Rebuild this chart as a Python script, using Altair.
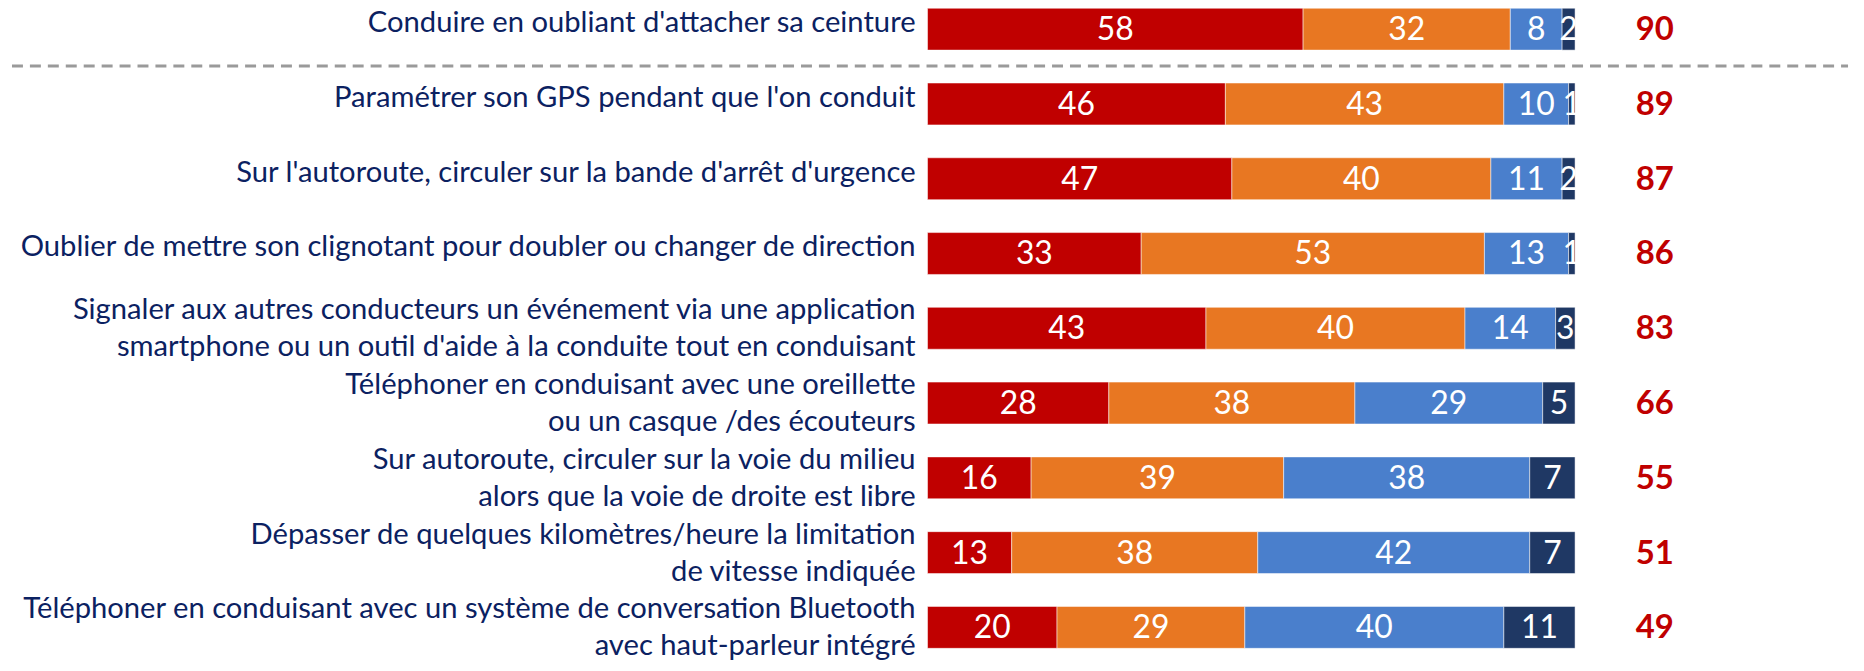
import altair as alt
import pandas as pd

labels = [
    "Conduire en oubliant d'attacher sa ceinture",
    "Paramétrer son GPS pendant que l'on conduit",
    "Sur l'autoroute, circuler sur la bande d'arrêt d'urgence",
    "Oublier de mettre son clignotant pour doubler ou changer de direction",
    "Signaler aux autres conducteurs un événement via une application|smartphone ou un outil d'aide à la conduite tout en conduisant",
    "Téléphoner en conduisant avec une oreillette|ou un casque /des écouteurs",
    "Sur autoroute, circuler sur la voie du milieu|alors que la voie de droite est libre",
    "Dépasser de quelques kilomètres/heure la limitation|de vitesse indiquée",
    "Téléphoner en conduisant avec un système de conversation Bluetooth|avec haut-parleur intégré",
]
series_names = ["Très grave", "Assez grave", "Peu grave", "Pas grave du tout"]
s_tres = [58, 46, 47, 33, 43, 28, 16, 13, 20]
s_assez = [32, 43, 40, 53, 40, 38, 39, 38, 29]
s_peu = [8, 10, 11, 13, 14, 29, 38, 42, 40]
s_pas = [2, 1, 2, 1, 3, 5, 7, 7, 11]
totals = [90, 89, 87, 86, 83, 66, 55, 51, 49]
colors = ["#C00000", "#E87722", "#4A7FCC", "#1F3864"]

series = [s_tres, s_assez, s_peu, s_pas]
rows = []
for i, lab in enumerate(labels):
    start = 0
    for k, name in enumerate(series_names):
        v = series[k][i]
        rows.append({"idx": i, "serie": name, "order": k, "value": v,
                     "x0": start, "x1": start + v, "xm": start + v / 2})
        start += v
seg = pd.DataFrame(rows)
lab_df = pd.DataFrame({"idx": list(range(len(labels))), "label": labels, "total": totals})

W, H = 650, 655
xs = alt.Scale(domain=[0, 100])
ys = alt.Scale(domain=[-0.2665, 8.46], reverse=True)

bars = alt.Chart(seg).transform_calculate(
    ya="datum.idx - 0.28", yb="datum.idx + 0.28"
).mark_rect(stroke="#FFFFFF", strokeWidth=1, strokeOpacity=0.5).encode(
    x=alt.X("x0:Q", scale=xs, axis=None),
    x2="x1:Q",
    y=alt.Y("ya:Q", scale=ys, axis=None),
    y2="yb:Q",
    color=alt.Color("serie:N", scale=alt.Scale(domain=series_names, range=colors), legend=None),
)

nums = alt.Chart(seg).mark_text(
    color="white", font="Lato", fontSize=32, baseline="middle", align="center", dy=1
).encode(
    x=alt.X("xm:Q", scale=xs, axis=None),
    y=alt.Y("idx:Q", scale=ys, axis=None),
    text="value:Q",
)

# multi-line labels: move the block up so it is centred on its bar
cat_text = alt.Chart(lab_df).transform_calculate(
    nl="length(split(datum.label, '|'))",
    ylab="datum.idx - (datum.nl - 1) * 12 / 75.06",
).mark_text(
    align="right", baseline="middle", lineBreak="|", lineHeight=37,
    font="Lato", fontSize=29.3, color="#0B2161", dy=-6
).encode(
    x=alt.value(-12),
    y=alt.Y("ylab:Q", scale=ys, axis=None),
    text="label:N",
)

tot_text = alt.Chart(lab_df).mark_text(
    align="center", baseline="middle", font="Lato", fontWeight="bold",
    fontSize=33, color="#C00000", dy=1
).encode(
    x=alt.value(730),
    y=alt.Y("idx:Q", scale=ys, axis=None),
    text="total:Q",
)

sep = alt.Chart(pd.DataFrame({"a": [0]})).mark_rule(
    color="#9A9A9A", strokeWidth=3, strokeDash=[11, 7]
).encode(x=alt.value(-919), x2=alt.value(924), y=alt.value(57))

chart = alt.layer(sep, bars, nums, cat_text, tot_text).properties(
    width=W, height=H,
    autosize=alt.AutoSizeParams(type="none"),
    padding={"left": 923, "top": 0, "right": 282, "bottom": 8},
).configure_view(stroke=None)

chart.save("out.html", embed_options={"renderer": "svg", "actions": False})
